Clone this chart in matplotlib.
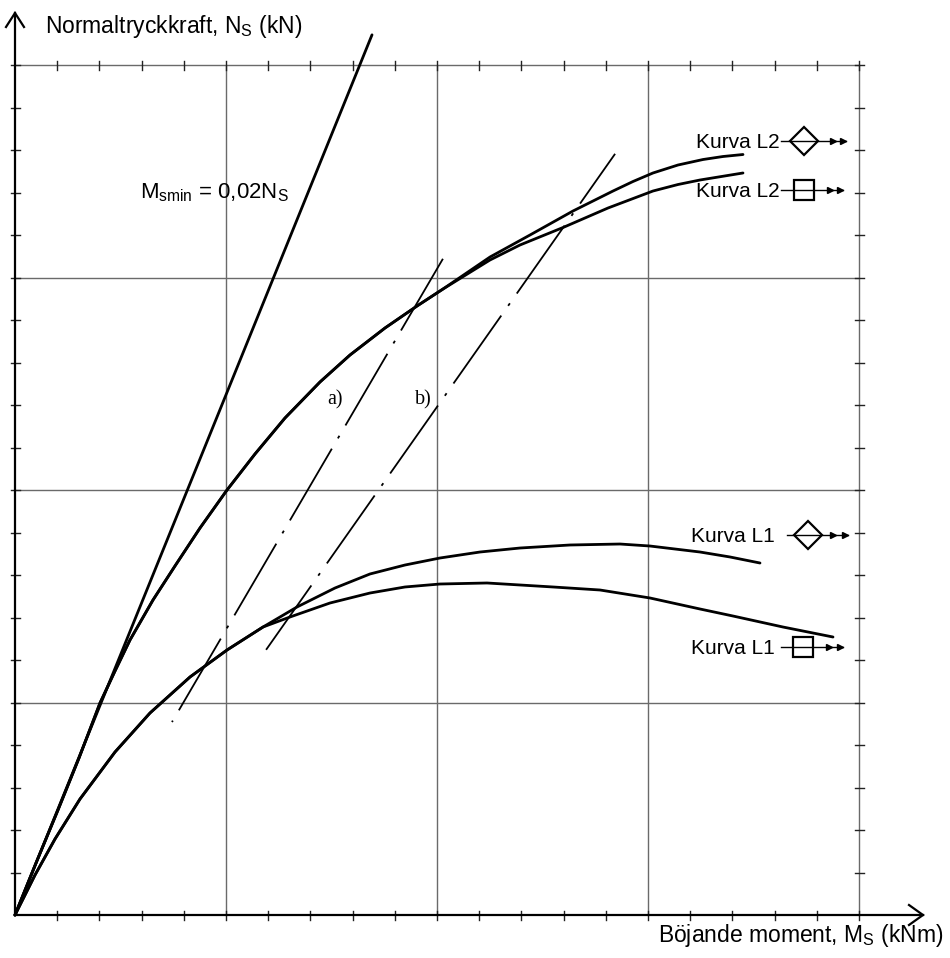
import matplotlib
matplotlib.use("Agg")
import matplotlib.pyplot as plt

plt.rcParams['font.family'] = ['Liberation Sans', 'DejaVu Sans']
plt.rcParams['mathtext.default'] = 'regular'
plt.rcParams['lines.scale_dashes'] = False

# ---------------- data (axis units: one minor tick = 1) ----------------
m_min_x = [0.0, 8.46]
m_min_y = [0.0, 20.71]

l2_common_x = [0, 0.498, 1.019, 1.517, 2.014, 2.370, 2.725, 3.270, 3.791, 4.384, 5.024,
               5.687, 6.398, 7.227, 7.938, 8.768, 9.526, 10.142]
l2_common_y = [0, 1.224, 2.471, 3.694, 4.988, 5.741, 6.471, 7.412, 8.212, 9.106, 10.000,
               10.847, 11.694, 12.541, 13.176, 13.812, 14.329, 14.729]

l2_diamond_x = l2_common_x + [11.256, 12.204, 13.223, 14.171, 14.645, 15.118, 15.711, 16.303, 16.777, 17.251]
l2_diamond_y = l2_common_y + [15.482, 16.000, 16.565, 17.035, 17.259, 17.459, 17.647, 17.776, 17.847, 17.894]

l2_square_x = l2_common_x + [11.256, 11.967, 12.986, 14.052, 15.118, 15.711, 16.232, 17.251]
l2_square_y = l2_common_y + [15.412, 15.765, 16.176, 16.635, 17.035, 17.188, 17.294, 17.459]

l1_common_x = [0, 0.474, 0.948, 1.540, 2.370, 3.199, 4.147, 5.024, 5.877]
l1_common_y = [0, 0.941, 1.788, 2.729, 3.835, 4.753, 5.600, 6.235, 6.776]

l1_diamond_x = l1_common_x + [6.682, 7.583, 8.412, 9.242, 10.071, 11.019, 11.967, 13.152,
                              14.336, 15.047, 16.232, 16.943, 17.654]
l1_diamond_y = l1_common_y + [7.247, 7.694, 8.024, 8.235, 8.400, 8.541, 8.635, 8.706,
                              8.729, 8.682, 8.541, 8.424, 8.282]

l1_square_x = l1_common_x + [6.517, 7.464, 8.412, 9.242, 10.071, 11.185, 12.749, 13.863,
                             15.047, 16.232, 17.014, 18.199, 19.384]
l1_square_y = l1_common_y + [7.012, 7.341, 7.576, 7.718, 7.788, 7.812, 7.718, 7.647,
                             7.459, 7.200, 7.035, 6.776, 6.541]

line_a_x = [10.14, 3.72]
line_a_y = [15.44, 4.54]
line_b_x = [14.22, 5.95]
line_b_y = [17.91, 6.24]

key_labels = ['Kurva L2', 'Kurva L2', 'Kurva L1', 'Kurva L1']
key_markers = ['D', 's', 'D', 's']

n_minor = 20
major_step = 5

# ---------------- figure ----------------
fig = plt.figure(figsize=(9.5, 9.58), dpi=100)
ax = fig.add_axes([0, 0, 1, 1])
sx, sy = 42.2, 42.5  # pixels per unit
ax.set_xlim(-15 / sx, 935 / sx)
ax.set_ylim(-43 / sy, 915 / sy)
ax.axis('off')

grid_c = '#6a6a6a'
for v in range(major_step, n_minor + 1, major_step):
    ax.plot([v, v], [0, n_minor], color=grid_c, lw=1.0, zorder=1)
    ax.plot([0, n_minor], [v, v], color=grid_c, lw=1.0, zorder=1)

# ticks (short crosses) on all four edges
tx = 4.5 / sx
ty = 4.5 / sy
for i in range(1, n_minor + 1):
    ax.plot([i, i], [-ty, ty], color='#222222', lw=1.0, zorder=2)
    ax.plot([i, i], [n_minor - ty, n_minor + ty], color='#222222', lw=1.0, zorder=2)
    ax.plot([-tx, tx], [i, i], color='#222222', lw=1.0, zorder=2)
    ax.plot([n_minor - tx, n_minor + tx], [i, i], color='#222222', lw=1.0, zorder=2)

# main axes with arrows
ax.plot([0, 0], [0, 902 / sy], color='black', lw=1.6, zorder=3)
ax.plot([0, 908 / sx], [0, 0], color='black', lw=1.6, zorder=3)
ytip = 902 / sy
ax.plot([-9 / sx, 0, 9 / sx], [ytip - 14 / sy, ytip, ytip - 14 / sy], color='black', lw=1.6,
        solid_joinstyle='miter', zorder=3)
xtip = 908 / sx
ax.plot([xtip - 14 / sx, xtip, xtip - 14 / sx], [10 / sy, 0, -10 / sy], color='black', lw=1.6,
        solid_joinstyle='miter', zorder=3)

# curves
ckw = dict(color='black', lw=2.0, zorder=4, solid_joinstyle='round', solid_capstyle='round')
ax.plot(m_min_x, m_min_y, **ckw)
ax.plot(l2_diamond_x, l2_diamond_y, **ckw)
ax.plot(l2_square_x, l2_square_y, **ckw)
ax.plot(l1_diamond_x, l1_diamond_y, **ckw)
ax.plot(l1_square_x, l1_square_y, **ckw)

dash = (59.8, 8.6, 2.2, 8.6)
ax.plot(line_a_x, line_a_y, color='black', lw=1.3, linestyle=(0, dash), zorder=4)
ax.plot(line_b_x, line_b_y, color='black', lw=1.3, linestyle=(16, dash), zorder=4)

# texts
ax.text(30 / sx, 882 / sy, 'Normaltryckkraft, $N_S$ (kN)', fontsize=16.5, ha='left', va='baseline')
ax.text(928 / sx, -27 / sy, 'Böjande moment, $M_S$ (kNm)', fontsize=16.5, ha='right', va='baseline')
ax.text(125 / sx, 717 / sy, '$M_{smin}$ = 0,02$N_S$', fontsize=16, ha='left', va='baseline')
ax.text(320 / sx, 515 / sy, 'a)', fontsize=14.5, family='Liberation Serif', ha='center', va='center')
ax.text(408.5 / sx, 515 / sy, 'b)', fontsize=14.5, family='Liberation Serif', ha='center', va='center')

# curve keys: line y, text right, line start, marker x, arrow1, arrow2 (pixels from origin)
key_geom = [
    (774, 765, 766, 789, 821, 831),
    (725, 765, 766, 789, 818, 828),
    (380, 760, 772, 793, 821, 833),
    (268, 760, 766, 788, 817, 828),
]
for lab, mk, (yp, xr, xs, xm, a1, a2) in zip(key_labels, key_markers, key_geom):
    yk = yp / sy
    ax.text(xr / sx, yk - 7 / sy, lab, fontsize=15, ha='right', va='baseline')
    ax.plot([xs / sx, a2 / sx], [yk, yk], color='black', lw=1.0, zorder=5)
    ms = 14.5 if mk == 'D' else 15
    ax.plot([xm / sx], [yk], marker=mk, ms=ms, mfc='none', mec='black', mew=1.6, zorder=6)
    ax.plot([a1 / sx - 3 / sx, a2 / sx - 3 / sx], [yk, yk], ls='none', marker='>', ms=5,
            color='black', zorder=6)

fig.savefig('out.png', dpi=100)
